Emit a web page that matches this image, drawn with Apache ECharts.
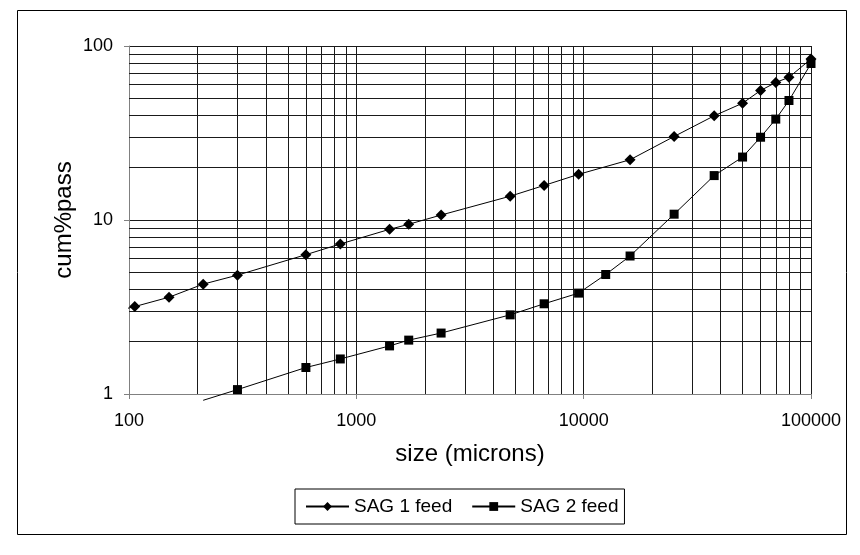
<!DOCTYPE html>
<html>
<head>
<meta charset="utf-8">
<script src="https://cdn.jsdelivr.net/npm/echarts@6/dist/echarts.min.js"></script>
<style>
html,body{margin:0;padding:0;background:#fff;}
#chart{width:860px;height:555px;}
</style>
</head>
<body>
<div id="chart"></div>
<script>
// sieve sizes (microns); the first point of each series lies just outside the plot and only its line stub shows
const sag1Sizes = [94, 106, 150, 212, 300, 600, 850, 1400, 1700, 2360, 4750, 6700, 9500, 16000, 25000, 37500, 50000, 60000, 70000, 80000, 100000];
const sag1Pass  = [3.06, 3.18, 3.60, 4.28, 4.82, 6.32, 7.28, 8.84, 9.45, 10.68, 13.7, 15.8, 18.3, 22.2, 30.2, 39.7, 46.9, 55.5, 61.7, 66.1, 84.2];
const sag2Sizes = [212, 300, 600, 850, 1400, 1700, 2360, 4750, 6700, 9500, 12500, 16000, 25000, 37500, 50000, 60000, 70000, 80000, 100000];
const sag2Pass  = [0.92, 1.06, 1.42, 1.59, 1.89, 2.04, 2.24, 2.85, 3.30, 3.80, 4.86, 6.21, 10.8, 18.0, 23.0, 29.9, 38.0, 48.6, 79.3];
const seriesNames = ['SAG 1 feed', 'SAG 2 feed'];
const xTitle = 'size (microns)';
const yTitle = 'cum%pass';
// minor log grid lines
const xMinorGrid = [200,300,400,500,600,700,800,900,2000,3000,4000,5000,6000,7000,8000,9000,20000,30000,40000,50000,60000,70000,80000,90000];
const yMinorGrid = [2,3,4,5,6,7,8,9,20,30,40,50,60,70,80,90];

const FONT = '"Liberation Sans", Arial, sans-serif';
const GRID_COLOR = '#1a1a1a';
const AXIS_COLOR = '#808080';

function toData(xs, ys) {
  return xs.map((x, i) => {
    const d = { value: [x, ys[i]] };
    if (i === 0) { d.symbol = 'none'; }
    return d;
  });
}

const chart = echarts.init(document.getElementById('chart'), null, { renderer: 'canvas' });
chart.setOption({
  animation: false,
  backgroundColor: '#fff',
  textStyle: { fontFamily: FONT },
  graphic: [{
    type: 'rect', silent: true, z: -10,
    shape: { x: 17.5, y: 10.5, width: 829, height: 524 },
    style: { fill: 'none', stroke: '#000', lineWidth: 1 }
  }],
  grid: { left: 129, right: 49, top: 46, bottom: 161, containLabel: false },
  xAxis: {
    type: 'log', logBase: 10, min: 100, max: 100000,
    name: xTitle, nameLocation: 'middle', nameGap: 48, nameMoveOverlap: false,
    nameTextStyle: { fontSize: 24, color: '#000', fontFamily: FONT },
    axisLine: { show: true, lineStyle: { color: AXIS_COLOR, width: 1 } },
    axisTick: { show: true, inside: false, length: 5, lineStyle: { color: AXIS_COLOR } },
    axisLabel: { fontSize: 18, color: '#000', margin: 18, fontFamily: FONT,
      formatter: v => String(Math.round(v)) },
    splitLine: { show: true, lineStyle: { color: GRID_COLOR, width: 1 } },
    minorTick: { show: false }, minorSplitLine: { show: false }
  },
  yAxis: {
    type: 'log', logBase: 10, min: 1, max: 100,
    name: yTitle, nameLocation: 'middle', nameGap: 53, nameRotate: 90, nameMoveOverlap: false,
    nameTextStyle: { fontSize: 24, color: '#000', fontFamily: FONT },
    axisLine: { show: true, lineStyle: { color: AXIS_COLOR, width: 1 } },
    axisTick: { show: true, inside: false, length: 5, lineStyle: { color: AXIS_COLOR } },
    axisLabel: { fontSize: 18, color: '#000', margin: 16, fontFamily: FONT,
      formatter: v => String(Math.round(v)) },
    splitLine: { show: true, lineStyle: { color: GRID_COLOR, width: 1 } },
    minorTick: { show: false }, minorSplitLine: { show: false }
  },
  legend: {
    left: 295, top: 489,
    data: seriesNames,
    orient: 'horizontal',
    itemWidth: 43, itemHeight: 11, itemGap: 19,
    padding: [8, 6, 8, 10],
    borderColor: '#000', borderWidth: 1,
    textStyle: { fontSize: 19, color: '#000', fontFamily: FONT }
  },
  series: [
    {
      name: 'minor-grid', type: 'line', data: [], silent: true, z: 1,
      markLine: {
        silent: true, symbol: ['none', 'none'], animation: false,
        label: { show: false },
        lineStyle: { color: GRID_COLOR, width: 1, type: 'solid' },
        emphasis: { disabled: true },
        data: xMinorGrid.map(v => ({ xAxis: v })).concat(yMinorGrid.map(v => ({ yAxis: v })))
      }
    },
    {
      name: seriesNames[0], type: 'line', z: 5, clip: false,
      data: toData(sag1Sizes, sag1Pass),
      symbol: 'diamond', symbolSize: 11,
      itemStyle: { color: '#000' },
      lineStyle: { color: '#000', width: 1 }
    },
    {
      name: seriesNames[1], type: 'line', z: 5, clip: false,
      data: toData(sag2Sizes, sag2Pass),
      symbol: 'rect', symbolSize: 9,
      itemStyle: { color: '#000' },
      lineStyle: { color: '#000', width: 1 }
    }
  ]
});
</script>
</body>
</html>
